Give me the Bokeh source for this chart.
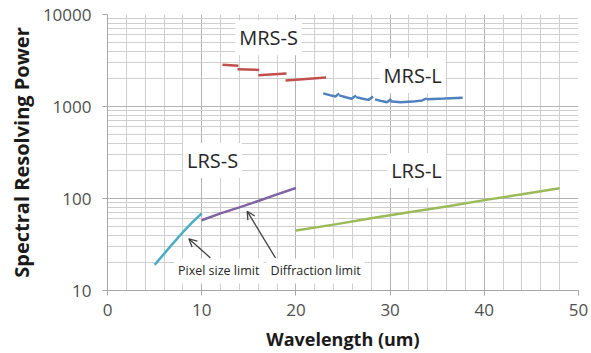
from bokeh.plotting import figure
from bokeh.models import Label, Arrow, OpenHead, SingleIntervalTicker, FixedTicker, NumeralTickFormatter
from bokeh.embed import file_html
from bokeh.resources import INLINE

# ---- data ----
mrs_s_x = [[12.2, 13.9], [13.8, 16.1], [16.0, 19.0], [18.9, 23.2]]
mrs_s_y = [[2840, 2770], [2540, 2500], [2190, 2285], [1917, 2067]]

mrs_l_x = [[22.9, 23.6, 24.2, 24.6], [24.6, 25.3, 25.9, 26.4], [26.4, 27.1, 27.7, 28.2],
           [28.4, 29.1, 29.7, 30.1], [30.0, 31.1, 32.4, 33.4, 33.9], [33.9, 35.8, 37.7]]
mrs_l_y = [[1390, 1330, 1285, 1390], [1320, 1260, 1215, 1320], [1265, 1215, 1180, 1285],
           [1195, 1145, 1115, 1210], [1143, 1112, 1130, 1165, 1225], [1201, 1222, 1245]]

lrs_pix_x = [5, 6, 7, 8, 9, 10]
lrs_pix_y = [19, 25, 33, 43, 55, 69]

lrs_diff_x = [10, 12, 14, 16, 18, 20]
lrs_diff_y = [58, 69, 80, 94, 111, 130]

lrs_l_x = [20, 24, 28, 32, 36, 40, 44, 48]
lrs_l_y = [45, 52, 61, 71, 82, 96, 111, 129]

x_ticks = [0, 10, 20, 30, 40, 50]
y_ticks = [10, 100, 1000, 10000]

FONT = "Open Sans"

p = figure(width=591, height=353, x_range=(0, 50), y_range=(10, 10000),
           y_axis_type="log", output_backend="svg", toolbar_location=None,
           min_border_left=107, min_border_right=13, min_border_top=14, min_border_bottom=63)
p.outline_line_color = None
p.background_fill_color = "white"

# axes
p.xaxis.ticker = SingleIntervalTicker(interval=10, num_minor_ticks=5)
minor_y = [m * d for d in (10, 100, 1000) for m in range(2, 10)]
p.yaxis.ticker = FixedTicker(ticks=y_ticks, minor_ticks=minor_y)
p.yaxis.formatter = NumeralTickFormatter(format="0")
for ax in (p.xaxis[0], p.yaxis[0]):
    ax.axis_line_color = "#a6a6a6"
    ax.major_tick_line_color = "#a6a6a6"
    ax.major_tick_out = 5
    ax.major_tick_in = 0
    ax.minor_tick_line_color = None
    ax.major_label_text_font = FONT
    ax.major_label_text_font_size = "17px"
    ax.major_label_text_color = "#505050"
    ax.axis_label_text_font = FONT
    ax.axis_label_text_font_style = "bold"
    ax.axis_label_text_color = "#1a1a1a"
p.xaxis.axis_label_text_font_size = "18px"
p.yaxis.axis_label_text_font_size = "20px"
p.xaxis.axis_label = "Wavelength (um)"
p.yaxis.axis_label = "Spectral Resolving Power"
p.xaxis.major_label_standoff = 8
p.xaxis.axis_label_standoff = 8
p.yaxis.major_label_standoff = 11
p.yaxis.axis_label_standoff = 5

# grids
p.xgrid.ticker = p.xaxis[0].ticker
p.ygrid.ticker = p.yaxis[0].ticker
p.xgrid.grid_line_color = "#b3b3b3"
p.xgrid.minor_grid_line_color = "#cfcfcf"
p.ygrid.grid_line_color = "#b3b3b3"
p.ygrid.minor_grid_line_color = "#cfcfcf"

# lines
p.multi_line(mrs_s_x, mrs_s_y, line_color="#c0504d", line_width=2.5)
p.multi_line(mrs_l_x, mrs_l_y, line_color="#4f81bd", line_width=2.5)
p.line(lrs_pix_x, lrs_pix_y, line_color="#4bacc6", line_width=2.5)
p.line(lrs_diff_x, lrs_diff_y, line_color="#8064a2", line_width=2.5)
p.line(lrs_l_x, lrs_l_y, line_color="#9bbb59", line_width=2.5)

# labels
def lab(x, y, t, size):
    p.add_layout(Label(x=x, y=y, text=t, text_font=FONT, text_font_size=size,
                       text_color="#262626", text_align="center", text_baseline="middle",
                       background_fill_color="white", padding=4))

lab(17.1, 5600, "MRS-S", "20px")
lab(32.4, 2170, "MRS-L", "20px")
lab(11.15, 259, "LRS-S", "20px")
lab(32.8, 201, "LRS-L", "20px")
lab(11.8, 16.3, "Pixel size limit", "12.5px")
lab(22.1, 16.3, "Diffraction limit", "12.5px")

for (xs, ys, xe, ye) in [(10.93, 22.6, 8.63, 36.5), (17.83, 22.6, 14.83, 72.8)]:
    p.add_layout(Arrow(x_start=xs, y_start=ys, x_end=xe, y_end=ye,
                       line_color="#404040", line_width=1.3,
                       end=OpenHead(size=8, line_color="#404040", line_width=1.3)))

open("out.html", "w").write(file_html(p, INLINE))
